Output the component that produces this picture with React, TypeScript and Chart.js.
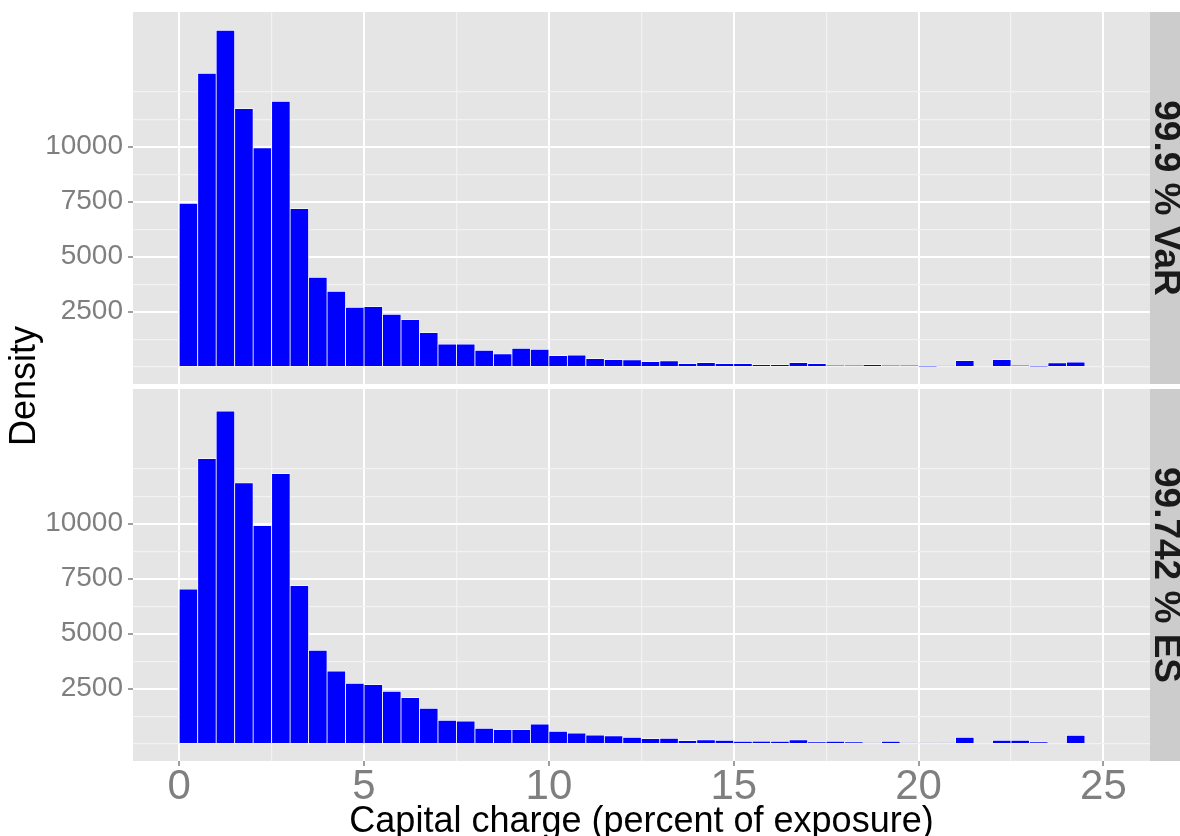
import React, { useEffect, useRef } from "react";
import { Chart, registerables } from "chart.js";

Chart.register(...registerables);

const FONT = "'Liberation Sans', Arial, Helvetica, sans-serif";

// Histogram bins (centres, width 0.5 percent of exposure)
const binCenters = [
  0.25, 0.75, 1.25, 1.75, 2.25, 2.75, 3.25, 3.75, 4.25, 4.75,
  5.25, 5.75, 6.25, 6.75, 7.25, 7.75, 8.25, 8.75, 9.25, 9.75,
  10.25, 10.75, 11.25, 11.75, 12.25, 12.75, 13.25, 13.75, 14.25, 14.75,
  15.25, 15.75, 16.25, 16.75, 17.25, 17.75, 18.25, 18.75, 19.25, 19.75,
  20.25, 20.75, 21.25, 21.75, 22.25, 22.75, 23.25, 23.75, 24.25,
];

// Panel 1: 99.9 % VaR
const varDensity = [
  7420, 13330, 15290, 11730, 9950, 12060, 7180, 4060, 3420, 2700,
  2730, 2380, 2140, 1550, 1020, 1030, 740, 580, 830, 790,
  500, 530, 370, 320, 310, 230, 260, 140, 180, 140,
  140, 90, 90, 180, 140, 45, 45, 90, 45, 45,
  15, 30, 270, 0, 320, 45, 8, 170, 210,
];

// Panel 2: 99.742 % ES
const esDensity = [
  7020, 12960, 15120, 11860, 9910, 12270, 7180, 4240, 3300, 2740,
  2680, 2380, 2090, 1610, 1060, 1030, 700, 640, 640, 890,
  560, 480, 390, 350, 290, 230, 240, 140, 170, 150,
  110, 110, 110, 170, 80, 110, 80, 30, 110, 30,
  30, 30, 290, 0, 150, 150, 80, 0, 380,
];

const panelLabels = ["99.9 % VaR", "99.742 % ES"];
const xTitle = "Capital charge (percent of exposure)";
const yTitle = "Density";

// Grid breaks (ggplot style: major + minor)
const xGridValues = [0, 2.5, 5, 7.5, 10, 12.5, 15, 17.5, 20, 22.5, 25];
const xTickLabels = ["0", "5", "10", "15", "20", "25"];
const xLabelValues = [0, 5, 10, 15, 20, 25];
const yGridValues = [0, 1250, 2500, 3750, 5000, 6250, 7500, 8750, 10000, 11250, 12500];
const yLabelValues = [2500, 5000, 7500, 10000];
const yTickLabels = ["2500", "5000", "7500", "10000"];

const X_MIN = -1.25;
const X_MAX = 26.26;
const Y_MIN = -789;
const Y_MAX = 16120;

const panelBgPlugin = {
  id: "panelBg",
  beforeDraw(chart: any) {
    const { ctx, chartArea: a, width } = chart;
    ctx.save();
    ctx.fillStyle = "#E5E5E5";
    ctx.fillRect(a.left, a.top, a.right - a.left, a.bottom - a.top);
    ctx.fillStyle = "#CCCCCC";
    ctx.fillRect(a.right, a.top, width - a.right, a.bottom - a.top);
    ctx.restore();
  },
};

function makeConfig(values: number[], label: string, isBottom: boolean): any {
  const isMajorX = (v: any) => xLabelValues.indexOf(v) >= 0;
  const isMajorY = (v: any) => yLabelValues.indexOf(v) >= 0;
  return {
    type: "bar",
    data: {
      datasets: [
        {
          data: binCenters.map((x, i) => ({ x, y: values[i] })),
          backgroundColor: "#0000FF",
          borderColor: "#FFFFFF",
          borderWidth: 0.75,
          barPercentage: 1,
          categoryPercentage: 1,
        },
      ],
    },
    options: {
      animation: false,
      responsive: false,
      events: [],
      layout: { padding: { top: isBottom ? 3 : 12, left: 0, right: 0, bottom: 0 } },
      plugins: {
        legend: { display: false },
        tooltip: { enabled: false },
        title: {
          display: true,
          position: "right",
          fullSize: false,
          text: label,
          color: "#1A1A1A",
          font: { family: FONT, size: 37, weight: "bold", lineHeight: 30 / 37 },
          padding: 0,
        },
      },
      scales: {
        x: {
          type: "linear",
          min: X_MIN,
          max: X_MAX,
          offset: false,
          afterBuildTicks: (s: any) => {
            s.ticks = xGridValues.map((v) => ({ value: v }));
          },
          afterFit: (s: any) => {
            s.height = isBottom ? 75 : 2;
            s.paddingLeft = 0;
            s.paddingRight = 0;
            s.paddingTop = 0;
            s.paddingBottom = 0;
          },
          border: { display: false },
          grid: {
            offset: false,
            drawTicks: isBottom,
            tickLength: 5,
            tickWidth: 1.5,
            tickColor: (c: any) => (c.tick && isMajorX(c.tick.value) ? "#7F7F7F" : "rgba(0,0,0,0)"),
            color: (c: any) => (c.tick && isMajorX(c.tick.value) ? "#FFFFFF" : "#F2F2F2"),
            lineWidth: (c: any) => (c.tick && isMajorX(c.tick.value) ? 2 : 1.2),
          },
          ticks: {
            display: isBottom,
            autoSkip: false,
            maxRotation: 0,
            minRotation: 0,
            padding: 0,
            color: "#7F7F7F",
            font: { family: FONT, size: 42, lineHeight: 1 },
            callback: (v: any) => {
              const k = xLabelValues.indexOf(v);
              return k >= 0 ? xTickLabels[k] : "";
            },
          },
          title: {
            display: isBottom,
            text: xTitle,
            color: "#000000",
            font: { family: FONT, size: 36, lineHeight: 0.8 },
            padding: 0,
          },
        },
        y: {
          type: "linear",
          min: Y_MIN,
          max: Y_MAX,
          afterBuildTicks: (s: any) => {
            s.ticks = yGridValues.map((v) => ({ value: v }));
          },
          afterFit: (s: any) => {
            s.width = 133;
            s.paddingTop = 0;
            s.paddingBottom = 0;
            s.paddingLeft = 0;
            s.paddingRight = 0;
          },
          border: { display: false },
          grid: {
            drawTicks: true,
            tickLength: 5,
            tickWidth: 1.5,
            tickColor: (c: any) => (c.tick && isMajorY(c.tick.value) ? "#7F7F7F" : "rgba(0,0,0,0)"),
            color: (c: any) => (c.tick && isMajorY(c.tick.value) ? "#FFFFFF" : "#F2F2F2"),
            lineWidth: (c: any) => (c.tick && isMajorY(c.tick.value) ? 2 : 1.2),
          },
          ticks: {
            autoSkip: false,
            padding: 5,
            color: "#7F7F7F",
            font: { family: FONT, size: 28, lineHeight: 1 },
            callback: (v: any) => {
              const k = yLabelValues.indexOf(v);
              return k >= 0 ? yTickLabels[k] : "";
            },
          },
        },
      },
    },
    plugins: [panelBgPlugin],
  };
}

function Panel(props: { values: number[]; label: string; isBottom: boolean; top: number; height: number }) {
  const ref = useRef<HTMLCanvasElement | null>(null);
  useEffect(() => {
    if (!ref.current) return;
    const chart = new Chart(ref.current, makeConfig(props.values, props.label, props.isBottom));
    return () => chart.destroy();
  }, []);
  return (
    <canvas
      ref={ref}
      width={1180}
      height={props.height}
      style={{ position: "absolute", left: 0, top: props.top, width: 1180, height: props.height, display: "block" }}
    />
  );
}

export default function App() {
  useEffect(() => {
    document.body.style.margin = "0";
    document.body.style.overflow = "hidden";
  }, []);
  return (
    <div
      style={{
        position: "absolute",
        left: 0,
        top: 0,
        width: 1180,
        height: 836,
        overflow: "hidden",
        background: "#FFFFFF",
        fontFamily: FONT,
      }}
    >
      <Panel values={varDensity} label={panelLabels[0]} isBottom={false} top={0} height={386} />
      <Panel values={esDensity} label={panelLabels[1]} isBottom={true} top={386} height={450} />
      <div
        style={{
          position: "absolute",
          left: 23 - 150,
          top: 386 - 20,
          width: 300,
          height: 40,
          lineHeight: "40px",
          fontSize: 36,
          color: "#000000",
          textAlign: "center",
          whiteSpace: "nowrap",
          transform: "rotate(-90deg)",
        }}
      >
        {yTitle}
      </div>
    </div>
  );
}
